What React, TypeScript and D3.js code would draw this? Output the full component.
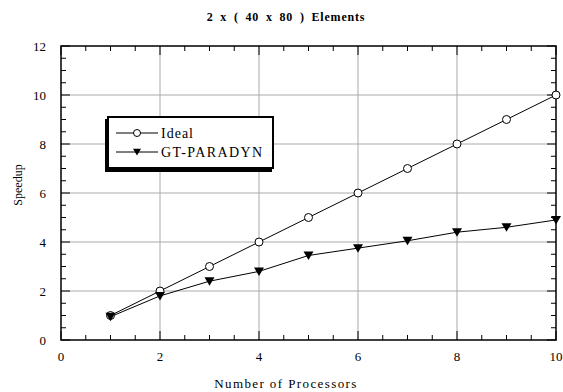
import React from "react";
import * as d3 from "d3";

const processors = [1, 2, 3, 4, 5, 6, 7, 8, 9, 10];
const idealValues = [1, 2, 3, 4, 5, 6, 7, 8, 9, 10];
const paradynValues = [0.95, 1.8, 2.4, 2.8, 3.45, 3.75, 4.05, 4.4, 4.6, 4.9];
const xTicks = [0, 2, 4, 6, 8, 10];
const yTicks = [0, 2, 4, 6, 8, 10, 12];
const seriesNames = ["Ideal", "GT-PARADYN"];

const W = 563, H = 392;
const L = 61, R = 556, T = 46, B = 340;
const FONT = "'Liberation Serif', 'Times New Roman', serif";

export default function App() {
  const x = d3.scaleLinear().domain([0, 10]).range([L, R]);
  const y = d3.scaleLinear().domain([0, 12]).range([B, T]);
  const line = d3.line<number>().x((_, i) => x(processors[i])).y((d) => y(d));
  const xMinor = d3.range(0, 10.01, 0.5);
  const yMinor = d3.range(0, 12.01, 0.5);
  const tri = (cx: number, cy: number, s = 5) =>
    `M${cx - s},${cy - s * 0.8}L${cx + s},${cy - s * 0.8}L${cx},${cy + s * 0.9}Z`;

  return (
    <svg width={W} height={H} style={{ position: "absolute", left: 0, top: 0 }}>
      <rect width={W} height={H} fill="#fff" />
      <text x={286} y={21} textAnchor="middle" fontFamily={FONT} fontWeight="bold" fontSize={12} letterSpacing={0.8} wordSpacing={3}>
        2 x ( 40 x 80 ) Elements
      </text>
      {/* grid */}
      {xTicks.filter((t) => t > 0 && t < 10).map((t) => (
        <line key={"gx" + t} x1={x(t)} x2={x(t)} y1={T} y2={B} stroke="#aaa" strokeWidth={1} />
      ))}
      {yTicks.filter((t) => t > 0 && t < 12).map((t) => (
        <line key={"gy" + t} x1={L} x2={R} y1={y(t)} y2={y(t)} stroke="#aaa" strokeWidth={1} />
      ))}
      {/* ticks */}
      {xMinor.map((t) => {
        const major = Math.abs(t % 2) < 1e-6;
        const len = major ? 9 : 5;
        return (
          <g key={"xt" + t}>
            <line x1={x(t)} x2={x(t)} y1={B} y2={B - len} stroke="#000" strokeWidth={1} />
            <line x1={x(t)} x2={x(t)} y1={T} y2={T + len} stroke="#000" strokeWidth={1} />
          </g>
        );
      })}
      {yMinor.map((t) => {
        const major = Math.abs(t % 2) < 1e-6;
        const len = major ? 9 : 5;
        return (
          <g key={"yt" + t}>
            <line x1={L} x2={L + len} y1={y(t)} y2={y(t)} stroke="#000" strokeWidth={1} />
            <line x1={R} x2={R - len} y1={y(t)} y2={y(t)} stroke="#000" strokeWidth={1} />
          </g>
        );
      })}
      {/* frame */}
      <rect x={L} y={T} width={R - L} height={B - T} fill="none" stroke="#000" strokeWidth={1.5} />
      {/* tick labels */}
      {xTicks.map((t) => (
        <text key={"xl" + t} x={x(t)} y={B + 21} textAnchor="middle" fontFamily={FONT} fontSize={13}>
          {t}
        </text>
      ))}
      {yTicks.map((t) => (
        <text key={"yl" + t} x={L - 15} y={y(t) + 4.5} textAnchor="end" fontFamily={FONT} fontSize={13}>
          {t}
        </text>
      ))}
      <text x={286} y={388} textAnchor="middle" fontFamily={FONT} fontSize={13} letterSpacing={1.4}>
        Number of Processors
      </text>
      <text transform={`translate(22,${185}) rotate(-90)`} textAnchor="middle" fontFamily={FONT} fontSize={12}>
        Speedup
      </text>
      {/* lines */}
      <path d={line(idealValues) || ""} fill="none" stroke="#000" strokeWidth={1} />
      <path d={line(paradynValues) || ""} fill="none" stroke="#000" strokeWidth={1} />
      {idealValues.map((v, i) => (
        <circle key={"ci" + i} cx={x(processors[i])} cy={y(v)} r={4} fill="#fff" stroke="#000" strokeWidth={1} />
      ))}
      {paradynValues.map((v, i) => (
        <path key={"tr" + i} d={tri(x(processors[i]), y(v))} fill="#000" />
      ))}
      {/* legend */}
      <rect x={105} y={119} width={167} height={53} fill="#000" />
      <rect x={108} y={117} width={165} height={51} fill="#fff" stroke="#000" strokeWidth={2} />
      <line x1={116} x2={158} y1={133} y2={133} stroke="#000" />
      <circle cx={137} cy={133} r={3.5} fill="#fff" stroke="#000" />
      <text x={161} y={138} fontFamily={FONT} fontSize={14} letterSpacing={1}>{seriesNames[0]}</text>
      <line x1={116} x2={158} y1={152} y2={152} stroke="#000" />
      <path d={tri(137, 152, 4)} fill="#000" />
      <text x={161} y={157} fontFamily={FONT} fontSize={14} letterSpacing={1.4}>{seriesNames[1]}</text>
    </svg>
  );
}
